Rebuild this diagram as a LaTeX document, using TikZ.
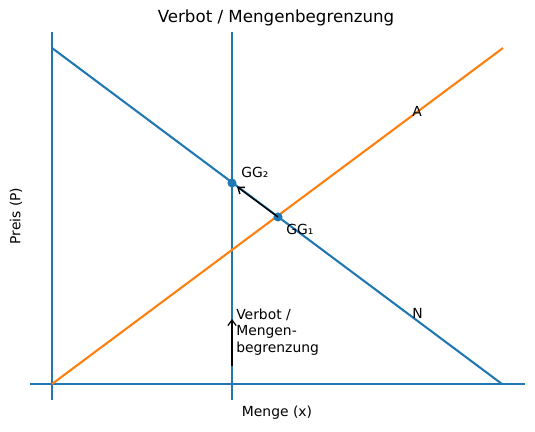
\documentclass[tikz,border=0pt]{standalone}
\usepackage{fontspec}
\setmainfont{DejaVu Sans}
\usetikzlibrary{arrows.meta}
\definecolor{mplblue}{HTML}{1F77B4}
\definecolor{mplorange}{HTML}{FF7F0E}
\begin{document}
\begin{tikzpicture}[x=0.72pt,y=-0.72pt,
  axisline/.style={mplblue,line width=1.5pt},
  curve/.style={line width=1.5pt},
  lbl/.style={font=\fontsize{10}{12}\selectfont,inner sep=0pt},
  pt/.style={circle,fill=mplblue,inner sep=0pt,minimum size=6.5pt},
  ann/.style={black,line width=1pt,-{Straight Barb[length=4pt,width=6pt]}}]
\useasboundingbox (0,0) rectangle (535,431);
% axes / lines
\coordinate (hl) at (30,384); \coordinate (hr) at (525,384);
\coordinate (vlt) at (52,32); \coordinate (vlb) at (52,400);
\coordinate (vmt) at (232,32); \coordinate (vmb) at (232,400);
\draw[axisline] (hl) -- (hr);
\draw[axisline] (vlt) -- (vlb);
\draw[axisline] (vmt) -- (vmb);
% demand and supply
\coordinate (n0) at (52,48); \coordinate (n1) at (502,384);
\coordinate (a0) at (52,384); \coordinate (a1) at (503,48);
\draw[curve,mplblue] (n0) -- (n1);
\draw[curve,mplorange] (a0) -- (a1);
% equilibria
\node[pt] (gg1) at (278,217) {};
\node[pt] (gg2) at (232,183) {};
\draw[ann,shorten >=1pt] (gg1.center) -- (gg2);
\node[lbl,anchor=west] (l2) at (241,172) {GG₂};
\node[lbl,anchor=west] (l1) at (286,229) {GG₁};
\node[lbl,anchor=west] (la) at (412,111) {A};
\node[lbl,anchor=west] (ln) at (412,313) {N};
% restriction arrow
\coordinate (r0) at (232,366); \coordinate (r1) at (232,319);
\draw[ann,line width=0.9pt] (r0) -- (r1);
\node[lbl,anchor=north west,align=left,font=\fontsize{10}{11.6}\selectfont] (rt) at (236,309) {Verbot /\\Mengen-\\begrenzung};
% titles
\node[lbl,font=\fontsize{12}{14}\selectfont] (title) at (276,18) {Verbot / Mengenbegrenzung};
\node[lbl] (xl) at (277,413) {Menge (x)};
\node[lbl,rotate=90] (yl) at (16,216) {Preis (P)};
\end{tikzpicture}
\end{document}
